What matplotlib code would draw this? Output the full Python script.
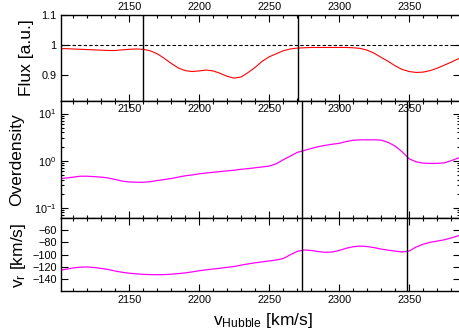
import numpy as np
import matplotlib
matplotlib.use('Agg')
import matplotlib.pyplot as plt
from matplotlib.ticker import MultipleLocator, FixedLocator, LogLocator

plt.rcParams['font.family'] = ['Liberation Sans', 'DejaVu Sans']
plt.rcParams['mathtext.fontset'] = 'custom'
plt.rcParams['mathtext.rm'] = 'Liberation Sans'
plt.rcParams['mathtext.it'] = 'Liberation Sans'

# velocity grid (km/s)
v_hubble = np.arange(2100, 2391, 5)

flux = [0.987, 0.987, 0.986, 0.985, 0.984, 0.983, 0.982, 0.981, 0.981, 0.983,
        0.985, 0.986, 0.985, 0.980, 0.970, 0.955, 0.938, 0.923, 0.914, 0.911,
        0.913, 0.916, 0.913, 0.905, 0.895, 0.889, 0.893, 0.908, 0.925, 0.945,
        0.960, 0.970, 0.980, 0.986, 0.989, 0.990, 0.991, 0.991, 0.991, 0.991,
        0.991, 0.991, 0.990, 0.988, 0.982, 0.972, 0.958, 0.945, 0.930, 0.918,
        0.911, 0.908, 0.909, 0.914, 0.922, 0.932, 0.942, 0.953, 0.962]

overdensity = [0.42, 0.43, 0.45, 0.47, 0.47, 0.46, 0.45, 0.43, 0.40, 0.37,
               0.355, 0.35, 0.35, 0.36, 0.38, 0.40, 0.42, 0.45, 0.48, 0.50,
               0.53, 0.55, 0.57, 0.59, 0.61, 0.63, 0.66, 0.68, 0.71, 0.74,
               0.77, 0.86, 1.05, 1.25, 1.50, 1.65, 1.82, 1.99, 2.12, 2.24,
               2.34, 2.55, 2.72, 2.78, 2.78, 2.78, 2.74, 2.45, 2.05, 1.55,
               1.10, 0.95, 0.89, 0.88, 0.88, 0.90, 1.00, 1.14, 1.20]

v_r = [-125.5, -123.5, -121.5, -120.3, -120.0, -120.8, -122.3, -124.0, -126.5, -128.5,
       -130.0, -131.0, -131.8, -132.2, -132.3, -132.2, -131.6, -130.6, -129.5, -127.8,
       -126.0, -124.5, -123.2, -122.0, -120.5, -119.2, -117.0, -115.0, -113.3, -111.8,
       -110.3, -108.8, -106.5, -100.5, -95.0, -92.8, -93.5, -95.2, -96.5, -96.0,
       -93.5, -90.0, -87.5, -86.5, -87.2, -89.0, -91.3, -93.0, -94.5, -96.0,
       -94.5, -88.0, -83.5, -80.5, -78.5, -76.5, -73.5, -70.0, -67.0]

lines_flux = [2160, 2270.3]
lines_other = [2273.6, 2348.7]

xticks = [2150, 2200, 2250, 2300, 2350]

fig = plt.figure(figsize=(4.6, 3.32), dpi=100)
W, H = 460.0, 332.0
left, right = 60.7, 459.5

def make_ax(top, bottom):
    return fig.add_axes([left / W, 1 - bottom / H, (right - left) / W, (bottom - top) / H])

ax1 = make_ax(14.7, 101.0)
ax2 = make_ax(101.0, 217.7)
ax3 = make_ax(217.7, 290.7)

for ax in (ax1, ax2, ax3):
    ax.set_xlim(2101, 2386)
    ax.xaxis.set_major_locator(FixedLocator(xticks))
    ax.xaxis.set_minor_locator(MultipleLocator(10))
    ax.tick_params(which='both', direction='in', top=True, right=True, labelsize=7.8, width=0.8)
    ax.tick_params(which='major', length=5)
    ax.tick_params(which='minor', length=2.5)
    for s in ax.spines.values():
        s.set_linewidth(1.0)

# Flux
ax1.plot(v_hubble, flux, color='#ff0000', lw=0.8)
ax1.axhline(1.0, color='black', lw=0.8, ls=(0, (3, 2)))
for xv in lines_flux:
    ax1.axvline(xv, color='black', lw=1.0)
ax1.set_ylim(0.813, 1.1)
ax1.yaxis.set_major_locator(FixedLocator([0.9, 1.0, 1.1]))
ax1.set_yticklabels(['0.9', '1', '1.1'])
ax1.tick_params(axis='x', labeltop=True, labelbottom=False, pad=2)
ax1.tick_params(axis='y', pad=3)

# Overdensity
ax2.plot(v_hubble, overdensity, color='#ff00ff', lw=0.9)
for xv in lines_other:
    ax2.axvline(xv, color='black', lw=1.0)
ax2.set_yscale('log')
ax2.set_ylim(0.062, 18.5)
ax2.yaxis.set_major_locator(LogLocator(base=10, numticks=5))
ax2.yaxis.set_minor_locator(LogLocator(base=10, subs=np.arange(2, 10), numticks=20))
ax2.tick_params(axis='x', labeltop=True, labelbottom=False, pad=-9.5)
ax2.tick_params(axis='y', pad=3)
ax2.tick_params(axis='y', which='minor', length=2)

# radial velocity
ax3.plot(v_hubble, v_r, color='#ff00ff', lw=0.9)
for xv in lines_other:
    ax3.axvline(xv, color='black', lw=1.0)
ax3.set_ylim(-158, -41)
ax3.yaxis.set_major_locator(FixedLocator([-140, -120, -100, -80, -60]))
ax3.tick_params(axis='x', pad=3)
ax3.tick_params(axis='y', pad=3)

fig.text(27 / W, 1 - 58 / H, 'Flux [a.u.]', rotation=90, ha='center', va='center', fontsize=12.5)
fig.text(17 / W, 1 - 160 / H, 'Overdensity', rotation=90, ha='center', va='center', fontsize=12.5)
fig.text(18 / W, 1 - 255 / H, r'v$_{\mathrm{r}}$ [km/s]', rotation=90, ha='center', va='center', fontsize=12.5)
fig.text(263 / W, 1 - 321 / H, r'v$_{\mathrm{Hubble}}$ [km/s]', ha='center', va='center', fontsize=12.5)

fig.savefig('out.png', dpi=100)
